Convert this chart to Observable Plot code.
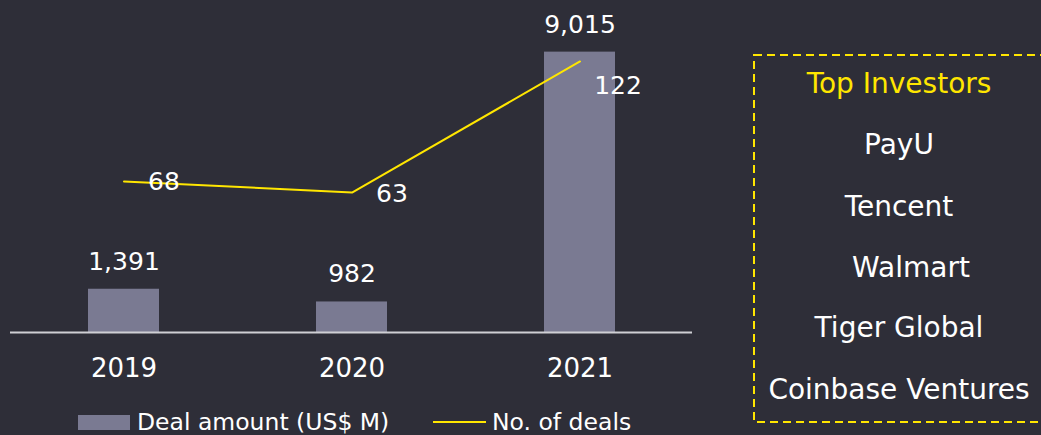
<!DOCTYPE html>
<html>
<head>
<meta charset="utf-8">
<script src="https://cdn.jsdelivr.net/npm/d3@7"></script>
<script src="https://cdn.jsdelivr.net/npm/@observablehq/plot@0.6"></script>
<style>
  html, body { margin: 0; padding: 0; background: #2e2e38; }
  body { width: 1041px; height: 435px; overflow: hidden; position: relative; font-family: "DejaVu Sans", sans-serif; }
  #chart { position: absolute; left: 0; top: 0; }
  #legend { position: absolute; left: 0; top: 400px; width: 700px; height: 35px; color: #fff; font-size: 23.5px; }
  #legend .sw { position: absolute; }
  #legend .lab { position: absolute; top: 10px; line-height: 24px; white-space: nowrap; }
  #box { position: absolute; left: 753px; top: 54px; width: 292px; height: 369px; }
  #box svg { position: absolute; left: 0; top: 0; }
  #box .item { position: absolute; left: 0; width: 292px; text-align: center; font-size: 28px; line-height: 32px; color: #fff; white-space: nowrap; }
  #box .title { color: #ffe600; }
</style>
</head>
<body>
<div id="chart"></div>
<div id="legend"></div>
<div id="box"></div>
<script>
const years = ["2019", "2020", "2021"];
const dealAmount = [1391, 982, 9015];
const dealCount = [68, 63, 122];
const investorsTitle = "Top Investors";
const investors = ["PayU", "Tencent", "Walmart", "Tiger Global", "Coinbase Ventures"];
const legendLabels = ["Deal amount (US$ M)", "No. of deals"];

const barColor = "#7a7a92";
const lineColor = "#ffe600";
const amountMax = 10000;   // primary axis
const countMax = 140;      // secondary axis
const k = amountMax / countMax;

const data = years.map((y, i) => ({year: y, amount: dealAmount[i], count: dealCount[i]}));
const fmt = d3.format(",");

const plot = Plot.plot({
  width: 700,
  height: 400,
  marginLeft: 10,
  marginRight: 8,
  marginTop: 21,
  marginBottom: 68,
  style: {background: "transparent", color: "#fff", fontFamily: "DejaVu Sans, sans-serif", fontSize: "25px"},
  x: {type: "band", domain: years, paddingInner: 0.69, paddingOuter: 0.34, label: null},
  y: {domain: [0, amountMax], axis: null},
  marks: [
    Plot.barY(data, {x: "year", y: "amount", fill: barColor}),
    Plot.ruleY([0], {stroke: "#cfcfd4", strokeWidth: 2}),
    Plot.axisX({tickSize: 0, tickPadding: 26, fontSize: 26, fill: "#fff", label: null}),
    Plot.text(data, {x: "year", y: "amount", text: d => fmt(d.amount), dy: -27.5, lineAnchor: "middle", fill: "#fff", fontSize: 25}),
    Plot.line(data, {x: "year", y: d => d.count * k, stroke: lineColor, strokeWidth: 2}),
    Plot.text(data, {filter: (d, i) => i < 2, x: "year", y: d => d.count * k, text: d => String(d.count), dx: 40, dy: 1, lineAnchor: "middle", fill: "#fff", fontSize: 25}),
    Plot.text(data, {filter: (d, i) => i === 2, x: "year", y: d => d.count * k, text: d => String(d.count), dx: 38, dy: 25, lineAnchor: "middle", fill: "#fff", fontSize: 25})
  ]
});
document.getElementById("chart").appendChild(plot);

// Legend
const legend = document.getElementById("legend");
legend.innerHTML = `
  <div class="sw" style="left:78px;top:15px;width:52px;height:15px;background:${barColor}"></div>
  <div class="lab" style="left:137px">${legendLabels[0]}</div>
  <div class="sw" style="left:433px;top:21px;width:53px;height:2px;background:${lineColor}"></div>
  <div class="lab" style="left:492px">${legendLabels[1]}</div>`;

// Investors box
const box = document.getElementById("box");
box.innerHTML = `<svg width="292" height="369"><rect x="1" y="1" width="290" height="367" fill="none" stroke="${lineColor}" stroke-width="2" stroke-dasharray="8,5"/></svg>`;
const baselines = [93.3, 155, 216.7, 278, 338, 400];
[investorsTitle, ...investors].forEach((t, i) => {
  const d = document.createElement("div");
  d.className = "item" + (i === 0 ? " title" : "");
  d.textContent = t;
  d.style.top = (baselines[i] - 54 - 25.7) + "px";
  if (t === "Walmart") d.style.paddingLeft = "24px", d.style.width = "268px";
  box.appendChild(d);
});
</script>
</body>
</html>
